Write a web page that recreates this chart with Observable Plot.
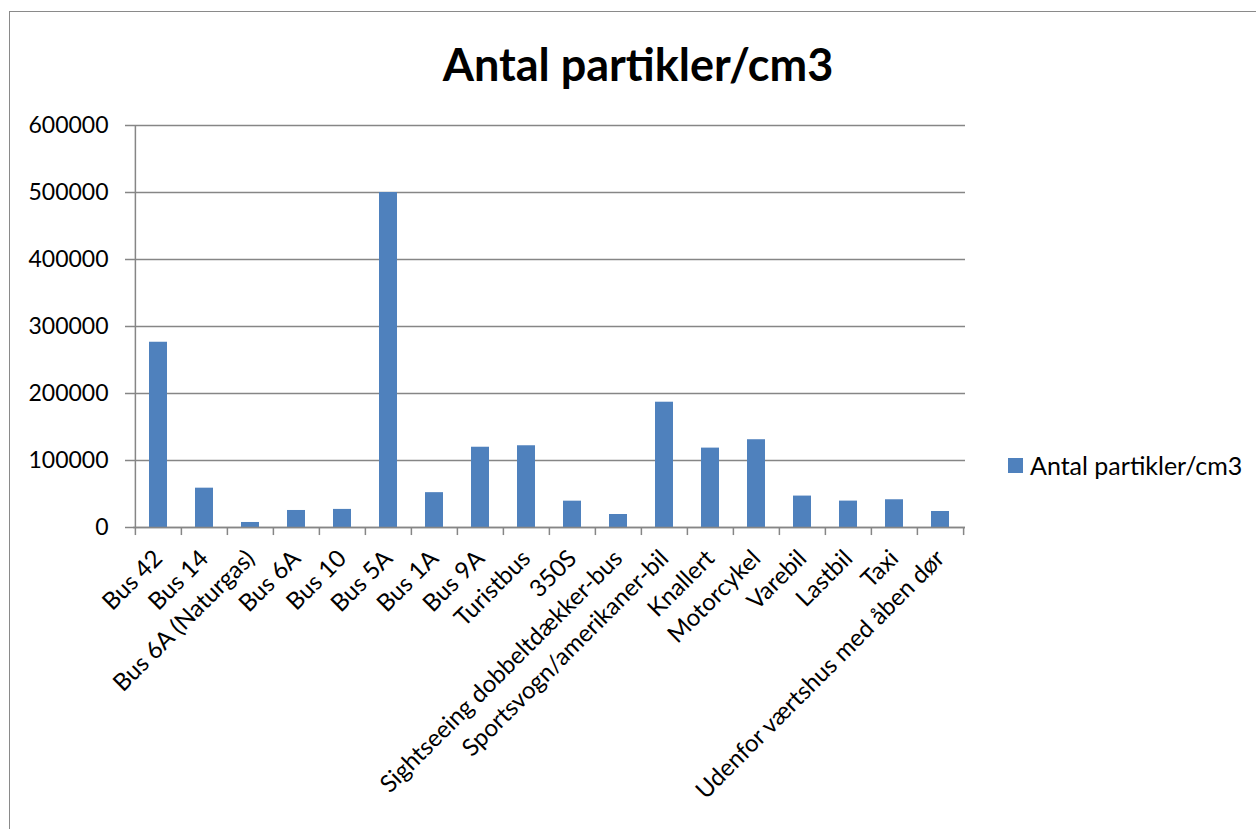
<!DOCTYPE html>
<html><head><meta charset="utf-8">
<script src="https://cdn.jsdelivr.net/npm/d3@7"></script>
<script src="https://cdn.jsdelivr.net/npm/@observablehq/plot@0.6"></script>
<style>
body{margin:0;background:#fff;font-family:Lato,"Open Sans",sans-serif;overflow:hidden}
#wrap{position:relative;width:1256px;height:829px;overflow:hidden}
#frame{position:absolute;left:9px;top:11px;width:1400px;height:1000px;border:1.5px solid #8a8a8a;box-sizing:border-box}
#title{position:absolute;left:0;width:1276px;top:40px;text-align:center;font-weight:bold;font-size:45px;color:#000;line-height:1.1}
#legend{position:absolute;left:1008px;top:451px;font-size:25px;display:flex;align-items:center;color:#000;line-height:28px}
#legend .sw{width:15px;height:15px;background:#4F81BD;margin-right:7px}
#chart{position:absolute;left:0;top:0}
</style></head>
<body>
<div id="wrap">
  <div id="frame"></div>
  <div id="chart"></div>
  <div id="title"></div>
  <div id="legend"><span class="sw"></span><span id="legtext"></span></div>
</div>
<script>
const chartTitle = "Antal partikler/cm3";
const seriesName = "Antal partikler/cm3";
const categories = ["Bus 42","Bus 14","Bus 6A (Naturgas)","Bus 6A","Bus 10","Bus 5A","Bus 1A","Bus 9A","Turistbus","350S","Sightseeing dobbeltdækker-bus","Sportsvogn/amerikaner-bil","Knallert","Motorcykel","Varebil","Lastbil","Taxi","Udenfor værtshus med åben dør"];
const values = [276500,58700,7500,25400,27000,500000,52000,119800,122000,39300,19400,187000,118500,131000,46900,39400,41400,23900];
const yTicks = [0,100000,200000,300000,400000,500000,600000];

document.getElementById("title").textContent = chartTitle;
document.getElementById("legtext").textContent = seriesName;

const data = categories.map((c,i)=>({category:c, value:values[i]}));
const W=1256, H=829, mL=133, mR=291, mT=125, mB=302;
const step = (W-mL-mR)/categories.length;
const grid = "#868686";
const barColor = "#4F81BD";

const chart = Plot.plot({
  width: W, height: H,
  marginLeft: mL, marginRight: mR, marginTop: mT, marginBottom: mB,
  style: {fontFamily: 'Lato, "Open Sans", sans-serif', fontSize: "24px", color: "#000", background: "transparent", overflow: "visible"},
  x: {domain: categories, paddingInner: 0.6, paddingOuter: 0.3, label: null},
  y: {domain: [0, 600000], label: null},
  marks: [
    Plot.gridY(yTicks, {stroke: grid, strokeOpacity: 1, strokeWidth: 1.5}),
    Plot.barY(data, {x: "category", y: "value", fill: barColor}),
    Plot.ruleY([0], {stroke: grid, strokeWidth: 1.5}),
    Plot.ruleX([categories[0]], {dx: -step/2, stroke: grid, strokeWidth: 1.5}),
    Plot.ruleX(categories, {dx: -step/2, y1: 0, y2: -12000, stroke: grid, strokeWidth: 1.5}),
    Plot.ruleX([categories[categories.length-1]], {dx: step/2, y1: 0, y2: -12000, stroke: grid, strokeWidth: 1.5}),
    Plot.axisY(yTicks, {tickSize: 8, tickPadding: 17, stroke: grid, strokeWidth: 1.5, strokeOpacity: 1, tickFormat: d => String(d), label: null, fontSize: 23}),
    Plot.axisX({tickSize: 0, tickRotate: -45, tickPadding: 27, label: null, fontSize: 24})
  ]
});
document.getElementById("chart").appendChild(chart);
</script>
</body></html>
